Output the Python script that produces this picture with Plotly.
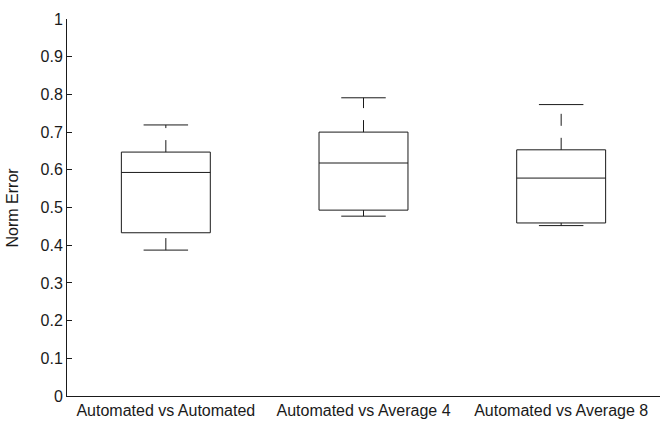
import plotly.graph_objects as go

# Box-plot summaries of the norm error for each comparison
categories = ["Automated vs Automated", "Automated vs Average 4", "Automated vs Average 8"]
lower_adjacent = [0.387, 0.477, 0.452]
q1 = [0.433, 0.493, 0.459]
median = [0.593, 0.618, 0.578]
q3 = [0.647, 0.700, 0.653]
upper_adjacent = [0.719, 0.791, 0.773]

y_tickvals = [0, 0.1, 0.2, 0.3, 0.4, 0.5, 0.6, 0.7, 0.8, 0.9, 1]
y_ticktext = ["0", "0.1", "0.2", "0.3", "0.4", "0.5", "0.6", "0.7", "0.8", "0.9", "1"]

BOX_HALF = 0.225
CAP_HALF = 0.1125
LINE = dict(color="#1a1a1a", width=1)
DASHED = dict(color="#1a1a1a", width=1, dash="12px,12px")

fig = go.Figure()

for i, name in enumerate(categories):
    c = i + 1
    # box outline
    fig.add_trace(go.Scatter(
        x=[c - BOX_HALF, c + BOX_HALF, c + BOX_HALF, c - BOX_HALF, c - BOX_HALF],
        y=[q1[i], q1[i], q3[i], q3[i], q1[i]],
        mode="lines", line=LINE, hoverinfo="skip"))
    # median
    fig.add_trace(go.Scatter(
        x=[c - BOX_HALF, c + BOX_HALF], y=[median[i], median[i]],
        mode="lines", line=LINE, hoverinfo="skip"))
    # whiskers (dashed, drawn upward from their lower end)
    fig.add_trace(go.Scatter(
        x=[c, c], y=[q3[i], upper_adjacent[i]],
        mode="lines", line=DASHED, hoverinfo="skip"))
    fig.add_trace(go.Scatter(
        x=[c, c], y=[lower_adjacent[i], q1[i]],
        mode="lines", line=DASHED, hoverinfo="skip"))
    # whisker caps
    for v in (upper_adjacent[i], lower_adjacent[i]):
        fig.add_trace(go.Scatter(
            x=[c - CAP_HALF, c + CAP_HALF], y=[v, v],
            mode="lines", line=LINE, hoverinfo="skip"))

fig.update_layout(
    width=668, height=421,
    margin=dict(l=67, r=8, t=19, b=25),
    paper_bgcolor="white", plot_bgcolor="white",
    showlegend=False,
    font=dict(family="Liberation Sans, Arial, Helvetica, sans-serif", size=16, color="#1a1a1a"),
    xaxis=dict(
        range=[0.5, 3.5], tickmode="array",
        tickvals=[1, 2, 3], ticktext=categories,
        ticks="", showline=True, linecolor="#1a1a1a", linewidth=1,
        showgrid=False, zeroline=False, automargin=False,
    ),
    yaxis=dict(
        range=[0, 1], tickmode="array",
        tickvals=y_tickvals, ticktext=y_ticktext,
        ticks="inside", ticklen=5, tickcolor="#1a1a1a",
        showline=True, linecolor="#1a1a1a", linewidth=1,
        showgrid=False, zeroline=False, automargin=False,
    ),
    annotations=[dict(
        text="Norm Error", textangle=-90,
        xref="paper", yref="paper", x=0, y=0.5,
        xanchor="center", yanchor="middle", xshift=-55,
        showarrow=False, font=dict(size=16),
    )],
)

fig.write_html("out.html")
